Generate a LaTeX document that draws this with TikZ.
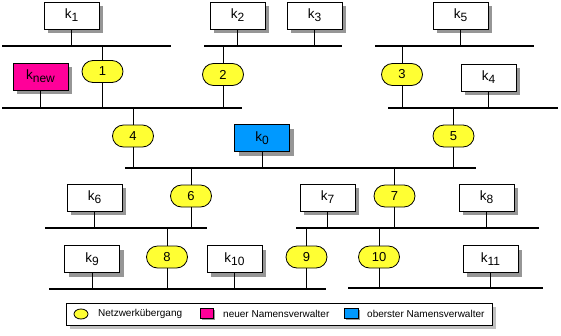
\documentclass[tikz,border=0pt]{standalone}
\usepackage{fontspec}
\setmainfont{Liberation Sans}
\usetikzlibrary{shadows,shapes.geometric}
\definecolor{gwyellow}{RGB}{255,255,51}
\definecolor{newmag}{RGB}{255,0,153}
\definecolor{topblue}{RGB}{0,153,255}
\definecolor{shadowgray}{RGB}{150,150,150}
\definecolor{legshadow}{RGB}{192,192,192}
\newcommand{\kl}[1]{k\raisebox{-3pt}{\fontsize{12}{12}\selectfont #1}}
\begin{document}
\begin{tikzpicture}[x=1pt,y=-1pt,
  kbox/.style={draw=black, line width=0.8pt, fill=white, minimum width=55pt, minimum height=27pt, inner sep=0pt,
    font=\fontsize{13.5}{13.5}\selectfont,
    drop shadow={shadow xshift=4pt, shadow yshift=-4pt, fill=shadowgray, opacity=1}},
  gw/.style={draw=black, line width=0.8pt, fill=gwyellow, rounded corners=11pt, minimum width=41pt, minimum height=22pt,
    inner sep=0pt, font=\fontsize{13}{13}\selectfont},
  bar/.style={line width=2.6pt},
  ln/.style={line width=0.9pt},
  legtext/.style={anchor=west, inner sep=0pt, font=\fontsize{10}{10}\selectfont}]
\useasboundingbox (0,0) rectangle (561,335);

% bars
\coordinate (A1) at (2,46);   \coordinate (A2) at (171,46);
\coordinate (B1) at (204,46); \coordinate (B2) at (342,46);
\coordinate (C1) at (375,46); \coordinate (C2) at (534,46);
\coordinate (D1) at (2,108);  \coordinate (D2) at (242,108);
\coordinate (E1) at (388,108);\coordinate (E2) at (558,108);
\coordinate (F1) at (125,168);\coordinate (F2) at (476,168);
\coordinate (G1) at (45,228); \coordinate (G2) at (207,228);
\coordinate (H1) at (296,228);\coordinate (H2) at (539,228);
\coordinate (I1) at (49,289); \coordinate (I2) at (326,289);
\coordinate (J1) at (348,288);\coordinate (J2) at (543,288);
\foreach \a/\b in {A1/A2,B1/B2,C1/C2,D1/D2,E1/E2,F1/F2,G1/G2,H1/H2,I1/I2,J1/J2}
  \draw[bar] (\a) -- (\b);

% name servers
\node[kbox] (k1) at (71.5,15.5) {\kl{1}};
\node[kbox] (k2) at (237.5,15.5) {\kl{2}};
\node[kbox] (k3) at (314.5,15.5) {\kl{3}};
\node[kbox] (k5) at (460.5,15.5) {\kl{5}};
\node[kbox, fill=newmag] (knew) at (40.5,76.5) {\kl{new}};
\node[kbox] (k4) at (488.5,77.5) {\kl{4}};
\node[kbox, fill=topblue] (k0) at (262,138) {\kl{0}};
\node[kbox] (k6) at (94.5,197.5) {\kl{6}};
\node[kbox] (k7) at (327.5,197.5) {\kl{7}};
\node[kbox] (k8) at (486.5,197.5) {\kl{8}};
\node[kbox] (k9) at (92,259) {\kl{9}};
\node[kbox] (k10) at (234.5,259) {\kl{10}};
\node[kbox] (k11) at (490.5,259) {\kl{11}};

% gateways
\node[gw] (g1) at (102.5,71.5) {1};
\node[gw] (g2) at (223,74.5) {2};
\node[gw] (g3) at (402,74.5) {3};
\node[gw] (g4) at (133,136) {4};
\node[gw] (g5) at (453.5,136) {5};
\node[gw] (g6) at (191,196) {6};
\node[gw] (g7) at (394.5,196) {7};
\node[gw] (g8) at (167,257) {8};
\node[gw] (g9) at (306.5,257) {9};
\node[gw] (g10) at (379,257) {10};

% server connectors
\draw[ln] (k1) -- (k1 |- A1);
\draw[ln] (k2) -- (k2 |- B1);
\draw[ln] (k3) -- (k3 |- B1);
\draw[ln] (k5) -- (k5 |- C1);
\draw[ln] (knew) -- (knew |- D1);
\draw[ln] (k4) -- (k4 |- E1);
\draw[ln] (k0) -- (k0 |- F1);
\draw[ln] (k6) -- (k6 |- G1);
\draw[ln] (k7) -- (k7 |- H1);
\draw[ln] (k8) -- (k8 |- H1);
\draw[ln] (k9) -- (k9 |- I1);
\draw[ln] (k10) -- (k10 |- I1);
\draw[ln] (k11) -- (k11 |- J1);

% gateway connectors
\draw[ln] (g1 |- A1) -- (g1) -- (g1 |- D1);
\draw[ln] (g2 |- B1) -- (g2) -- (g2 |- D1);
\draw[ln] (g3 |- C1) -- (g3) -- (g3 |- E1);
\draw[ln] (g4 |- D1) -- (g4) -- (g4 |- F1);
\draw[ln] (g5 |- E1) -- (g5) -- (g5 |- F1);
\draw[ln] (g6 |- F1) -- (g6) -- (g6 |- G1);
\draw[ln] (g7 |- F1) -- (g7) -- (g7 |- H1);
\draw[ln] (g8 |- G1) -- (g8) -- (g8 |- I1);
\draw[ln] (g9 |- H1) -- (g9) -- (g9 |- I1);
\draw[ln] (g10 |- H1) -- (g10) -- (g10 |- J1);

% legend
\node[draw=black, line width=0.8pt, fill=white, minimum width=426pt, minimum height=22pt, inner sep=0pt,
  drop shadow={shadow xshift=4pt, shadow yshift=-4pt, fill=legshadow, opacity=1}] (leg) at (279,314) {};
\node[ellipse, draw=black, line width=0.8pt, fill=gwyellow, minimum width=14pt, minimum height=10pt, inner sep=0pt] (lg) at (81,314) {};
\node[legtext] (lgt) at (98,314) {Netzwerkübergang};
\node[draw=black, line width=0.8pt, fill=newmag, minimum width=13pt, minimum height=10pt, inner sep=0pt,
  drop shadow={shadow xshift=1.5pt, shadow yshift=-1.5pt, fill=shadowgray, opacity=1}] (lm) at (206.5,313.5) {};
\node[legtext] (lmt) at (223,314) {neuer Namensverwalter};
\node[draw=black, line width=0.8pt, fill=topblue, minimum width=14pt, minimum height=10pt, inner sep=0pt,
  drop shadow={shadow xshift=1.5pt, shadow yshift=-1.5pt, fill=shadowgray, opacity=1}] (lb) at (351.5,313.5) {};
\node[legtext] (lbt) at (367,314) {oberster Namensverwalter};
\end{tikzpicture}
\end{document}
